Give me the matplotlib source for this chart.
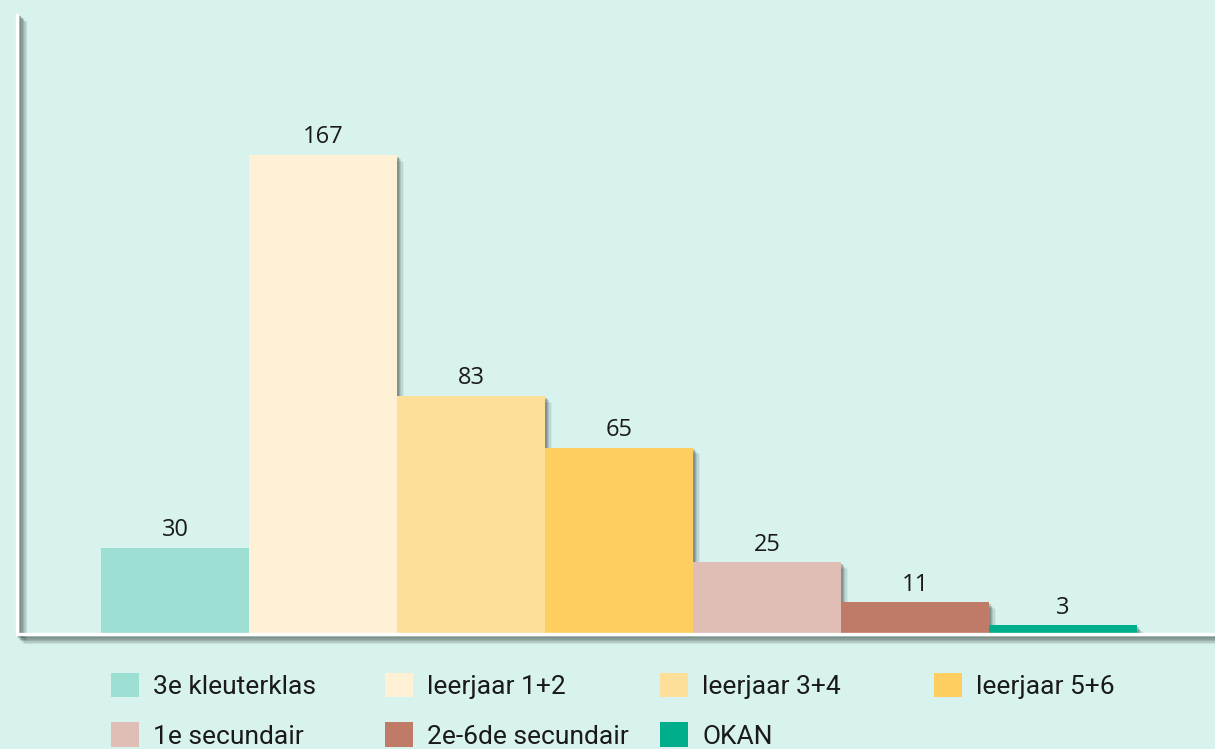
import matplotlib
matplotlib.use("Agg")
import matplotlib.pyplot as plt
import matplotlib.patheffects as pe
from matplotlib.patches import Patch

CATEGORIES = ["3e kleuterklas", "leerjaar 1+2", "leerjaar 3+4", "leerjaar 5+6",
              "1e secundair", "2e-6de secundair", "OKAN"]
VALUES = [30, 167, 83, 65, 25, 11, 3]
COLORS = ["#9ddfd3", "#fef1d6", "#fedf9a", "#fecf60", "#e1beb5", "#c07b68", "#00ae8b"]

BG = "#d8f2ed"
SHADOW = "#2f3d3a"
STEPS = [(1.5, 0.22), (2.5, 0.18), (3.5, 0.13), (4.5, 0.09), (5.5, 0.05)]


def patch_shadow(off=1.0, strength=1.0):
    effects = [pe.SimplePatchShadow(offset=(d * off, -d * off), shadow_rgbFace=SHADOW,
                                    alpha=a * strength) for d, a in STEPS]
    return effects + [pe.Normal()]


def line_shadow(off=1.0, strength=1.0):
    effects = [pe.SimpleLineShadow(offset=(d * off, -d * off), shadow_color=SHADOW,
                                   alpha=a * strength) for d, a in STEPS]
    return effects + [pe.Normal()]


fig = plt.figure(figsize=(12.15, 7.49), dpi=100, facecolor=BG)
ax = fig.add_axes([17 / 1215, 115 / 749, 1198 / 1215, 619 / 749])
ax.set_facecolor(BG)

x = list(range(len(VALUES)))
bars = ax.bar(x, VALUES, width=1.0, color=COLORS, linewidth=0, zorder=2)
for b in bars:
    b.set_path_effects(patch_shadow(0.9))

ax.bar_label(bars, labels=[str(v) for v in VALUES], padding=4,
             fontsize=17, family="Open Sans", color="#1a1a1a")

ax.set_xlim(-158 / 148, -158 / 148 + 1198 / 148)
ax.set_ylim(0, 619 / 2.868)

for side in ax.spines:
    ax.spines[side].set_visible(False)

# white axis lines with a soft drop shadow
ax.plot([0, 0, 1.01], [1, 0, 0], transform=ax.transAxes, color="white",
        linewidth=2.4, solid_joinstyle="miter", clip_on=False, zorder=3,
        path_effects=line_shadow(1.1, 1.6))

ax.set_xticks([])
ax.set_yticks([])

legend_font = {"family": ["Liberation Sans Narrow", "Roboto", "DejaVu Sans"], "size": 19}
col_x = [111, 385, 660, 934]
for j, cx in enumerate(col_x):
    idx = [j, j + 4]
    handles = [Patch(facecolor=COLORS[i], edgecolor="none", label=CATEGORIES[i])
               for i in idx if i < len(CATEGORIES)]
    leg = fig.legend(handles=handles, loc="upper left",
                     bbox_to_anchor=(cx / 1215, 1 - 673 / 749),
                     frameon=False, prop=legend_font,
                     handlelength=1.05, handleheight=1.05, handletextpad=0.55,
                     labelspacing=0.88, borderpad=0, borderaxespad=0)
    for t in leg.get_texts():
        t.set_color("#1a1a1a")

fig.savefig("out.png", dpi=100, facecolor=BG)
